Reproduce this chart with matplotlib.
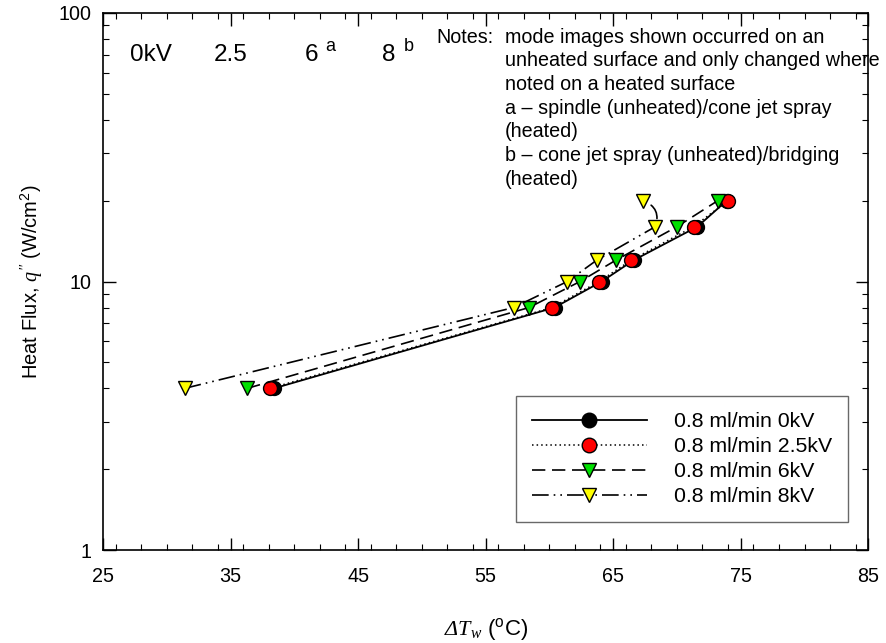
import numpy as np
import matplotlib.pyplot as plt
from matplotlib.ticker import MultipleLocator, LogLocator, NullFormatter, FixedLocator

plt.rcParams['font.family'] = ['Liberation Sans', 'DejaVu Sans']
# serif italic for the math symbols (q'', Delta T_w)
plt.rcParams['mathtext.fontset'] = 'custom'
plt.rcParams['mathtext.rm'] = 'Liberation Serif:italic'
plt.rcParams['mathtext.it'] = 'Liberation Serif:italic'

# heat flux levels (W/cm2)
q = [4, 8, 10, 12, 16, 20]
# wall superheat for each voltage (deg C)
dT_0kV = [38.4, 60.4, 64.1, 66.6, 71.6, 73.9]
dT_2p5kV = [38.1, 60.2, 63.9, 66.4, 71.3, 74.0]
dT_6kV = [36.3, 58.4, 62.4, 65.2, 70.0, 73.2]
dT_8kV = [31.4, 57.2, 61.4, 63.7, 68.3, 67.3]

labels = ['0.8 ml/min 0kV', '0.8 ml/min 2.5kV', '0.8 ml/min 6kV', '0.8 ml/min 8kV']
x_ticks = [25, 35, 45, 55, 65, 75, 85]

fig = plt.figure(figsize=(8.86, 6.43), dpi=100)
ax = fig.add_axes([0.1163, 0.1446, 0.8637, 0.8352])

ms = 10
ax.plot(dT_0kV, q, color='black', lw=1.3, ls='-', marker='o', ms=ms,
        mfc='black', mec='black', label=labels[0], zorder=3)
ax.plot(dT_2p5kV, q, color='black', lw=1.1, ls=(0, (1, 2)), marker='o', ms=ms,
        mfc='red', mec='black', mew=1, label=labels[1], zorder=4)
ax.plot(dT_6kV, q, color='black', lw=1.2, ls=(0, (8, 4)), marker='v', ms=ms,
        mfc='#00e000', mec='black', mew=1, label=labels[2], zorder=5)
# last 8kV point is linked by a curved connector, not the line
ax.plot(dT_8kV[:5], q[:5], color='black', lw=1.2, ls=(0, (10, 3, 1, 3, 1, 3)),
        marker='v', ms=ms, mfc='yellow', mec='black', mew=1, label=labels[3], zorder=6)
ax.plot(dT_8kV[5:], q[5:], ls='none', marker='v', ms=ms, mfc='yellow', mec='black',
        mew=1, zorder=6)
ax.annotate('', xy=(dT_8kV[5], q[5]), xytext=(dT_8kV[4], q[4]),
            arrowprops=dict(arrowstyle='-', color='black', lw=1.2,
                            connectionstyle='arc3,rad=0.5', shrinkA=6, shrinkB=7))

ax.set_yscale('log')
ax.set_xlim(25, 85)
ax.set_ylim(1, 100)
ax.xaxis.set_major_locator(FixedLocator(x_ticks))
ax.xaxis.set_minor_locator(MultipleLocator(2))
ax.yaxis.set_minor_locator(LogLocator(base=10, subs=np.arange(2, 10)))
ax.yaxis.set_minor_formatter(NullFormatter())
ax.set_yticks([1, 10, 100])
ax.set_yticklabels(['1', '10', '100'])
ax.tick_params(which='both', direction='in', top=True, right=True, labelsize=14.2)
ax.tick_params(axis='x', which='major', pad=12)
ax.tick_params(axis='y', which='major', pad=8)
ax.tick_params(which='major', length=9, width=1)
ax.tick_params(which='minor', length=4, width=0.8)
for s in ax.spines.values():
    s.set_linewidth(1.2)

ax.set_ylabel(r"Heat Flux, $q''$ (W/cm$\mathregular{^2}$)", fontsize=14.5, labelpad=10)
ax.set_xlabel(r'$\Delta T_w$ ($\mathregular{^oC}$)', fontsize=16, labelpad=22)

# mode image labels
hdr = dict(transform=ax.transAxes, fontsize=17.5, va='center', ha='left')
ax.text(0.035, 0.922, '0kV', **hdr)
ax.text(0.145, 0.922, '2.5', **hdr)
ax.text(0.263, 0.922, '6', **hdr)
ax.text(0.290, 0.937, 'a', transform=ax.transAxes, fontsize=13, va='center')
ax.text(0.365, 0.922, '8', **hdr)
ax.text(0.393, 0.937, 'b', transform=ax.transAxes, fontsize=13, va='center')

ax.text(0.436, 0.955, 'Notes:', transform=ax.transAxes, fontsize=14.2, va='center')
notes = ['mode images shown occurred on an',
         'unheated surface and only changed where',
         'noted on a heated surface',
         'a \u2013 spindle (unheated)/cone jet spray',
         '(heated)',
         'b \u2013 cone jet spray (unheated)/bridging',
         '(heated)']
for i, line in enumerate(notes):
    ax.text(0.525, 0.955 - i * 0.0441, line, transform=ax.transAxes, fontsize=14.2,
            va='center', ha='left')

leg = ax.legend(loc='lower right', bbox_to_anchor=(0.974, 0.052), fontsize=15.3,
                handlelength=5.4, handletextpad=1.3, borderpad=0.75, labelspacing=0.28,
                frameon=True, fancybox=False, edgecolor='#444444', borderaxespad=0,
                markerscale=1.05)
leg.get_frame().set_linewidth(1.0)

fig.savefig('out.png', dpi=100)
